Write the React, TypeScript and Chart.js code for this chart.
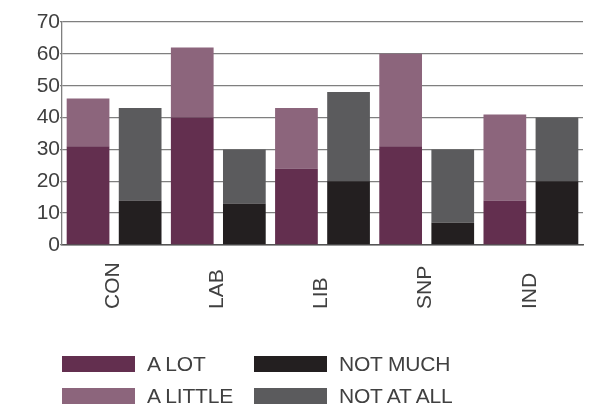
import React, { useEffect, useRef } from "react";
import { Chart, registerables } from "chart.js";

Chart.register(...registerables);

// Party categories and the four response groups (percent)
const categories = ["CON", "LAB", "LIB", "SNP", "IND"];
const aLot = [31, 40, 24, 31, 14];
const aLittle = [15, 22, 19, 29, 27];
const notMuch = [14, 13, 20, 7, 20];
const notAtAll = [29, 17, 28, 23, 20];

const seriesLabels = ["A LOT", "A LITTLE", "NOT MUCH", "NOT AT ALL"];
const seriesColors = ["#632f4f", "#8c657c", "#231f20", "#5b5b5d"];

const yMin = 0;
const yMax = 70;
const yStep = 10;

const FONT_FAMILY = "'Liberation Sans', Arial, sans-serif";
const TEXT_COLOR = "#404040";
const GRID_COLOR = "#7f7f7f";

// Draws the category names rotated, all starting from the same baseline
const categoryLabels = {
  id: "categoryLabels",
  afterDraw(chart: any) {
    const { ctx } = chart;
    const xs = chart.scales.x;
    ctx.save();
    ctx.font = `21px ${FONT_FAMILY}`;
    ctx.fillStyle = TEXT_COLOR;
    ctx.textAlign = "left";
    ctx.textBaseline = "middle";
    categories.forEach((name, i) => {
      const x = xs.getPixelForValue(i);
      ctx.save();
      ctx.translate(x - 1, 309);
      ctx.rotate(-Math.PI / 2);
      ctx.fillText(name, 0, 0);
      ctx.restore();
    });
    ctx.restore();
  },
};

export default function App() {
  const canvasRef = useRef<HTMLCanvasElement | null>(null);

  useEffect(() => {
    if (!canvasRef.current) return;
    const series = [aLot, aLittle, notMuch, notAtAll];
    const stacks = ["agree", "agree", "disagree", "disagree"];
    const chart = new Chart(canvasRef.current, {
      type: "bar",
      data: {
        labels: categories,
        datasets: series.map((data, i) => ({
          label: seriesLabels[i],
          data,
          backgroundColor: seriesColors[i],
          stack: stacks[i],
          borderWidth: 0,
          categoryPercentage: 1,
          barPercentage: 0.82,
        })),
      },
      options: {
        responsive: false,
        animation: false,
        devicePixelRatio: 1,
        layout: { padding: { top: 22, right: 15, left: 0, bottom: 0 } },
        plugins: {
          legend: { display: false },
          tooltip: { enabled: false },
        },
        scales: {
          x: {
            stacked: true,
            grid: { display: false },
            border: { display: true, color: "#555555", width: 1.5 },
            ticks: { display: false },
            afterFit: (scale: any) => {
              scale.height = 165;
            },
          },
          y: {
            stacked: true,
            min: yMin,
            max: yMax,
            ticks: {
              stepSize: yStep,
              padding: 0,
              color: TEXT_COLOR,
              font: { family: FONT_FAMILY, size: 21 },
            },
            grid: { color: GRID_COLOR, lineWidth: 1.3, tickLength: 2 },
            border: { display: true, color: GRID_COLOR, width: 1.3 },
            afterFit: (scale: any) => {
              scale.width = 62;
            },
          },
        },
      },
      plugins: [categoryLabels],
    });
    return () => chart.destroy();
  }, []);

  const legendOrder = [0, 2, 1, 3];
  const legendBoxes = [
    { x: 62, y: 356 },
    { x: 254, y: 356 },
    { x: 62, y: 388 },
    { x: 254, y: 388 },
  ];

  return (
    <div style={{ position: "absolute", left: 0, top: 0, width: 598, height: 410, background: "#ffffff" }}>
      <canvas ref={canvasRef} width={598} height={410} style={{ position: "absolute", left: 0, top: 0 }} />
      {legendOrder.map((si, k) => (
        <div
          key={seriesLabels[si]}
          style={{
            position: "absolute",
            left: legendBoxes[k].x,
            top: legendBoxes[k].y,
            display: "flex",
            alignItems: "center",
            height: 16,
            whiteSpace: "nowrap",
          }}
        >
          <div style={{ width: 73, height: 16, background: seriesColors[si] }} />
          <span
            style={{
              marginLeft: 12,
              font: `21px ${FONT_FAMILY}`,
              color: TEXT_COLOR,
              lineHeight: "16px",
              letterSpacing: "-0.2px",
            }}
          >
            {seriesLabels[si]}
          </span>
        </div>
      ))}
    </div>
  );
}
